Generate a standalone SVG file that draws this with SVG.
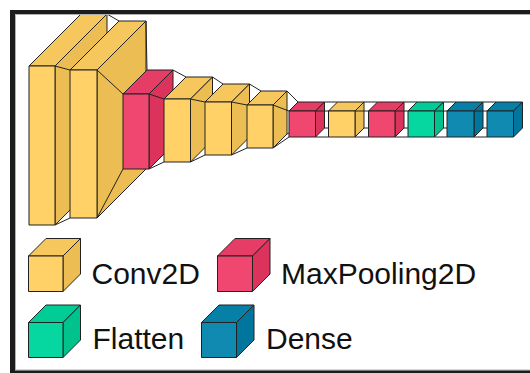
<svg xmlns="http://www.w3.org/2000/svg" width="530" height="373" viewBox="0 0 530 373">
  <style>
    .edge { stroke: #222; stroke-width: 1; stroke-linejoin: round; }
    .conv .front { fill: #FFD166; } .conv .top { fill: #F5C75C; } .conv .side { fill: #EBBD52; }
    .pool .front { fill: #EF476F; } .pool .top { fill: #E53D65; } .pool .side { fill: #DB335B; }
    .flat .front { fill: #06D6A0; } .flat .top { fill: #00CC96; } .flat .side { fill: #00C28C; }
    .dense .front { fill: #118AB2; } .dense .top { fill: #0780A8; } .dense .side { fill: #00769E; }
    .wire line { stroke: #222; stroke-width: 1; }
    .label { font-family: "Liberation Sans", Arial, sans-serif; font-size: 30px; fill: #111; }
    .frame { fill: #1c1c1c; }
    .frame-inner { stroke: #b0b0b0; stroke-width: 1; fill: none; }
  </style>

  <rect width="530" height="373" fill="#ffffff"/>

  <!-- layers: top face, side face, front face -->
  <g id="layer1" class="conv edge">
    <polygon class="top" points="29,66 81,14 107,14 55,66"/>
    <polygon class="side" points="55,66 107,14 107,173 55,225"/>
    <rect class="front" x="29" y="66" width="26" height="159"/>
  </g>
  <g id="layer2" class="conv edge">
    <polygon class="top" points="70,70 119,21 146,21 97,70"/>
    <polygon class="side" points="97,70 146,21 146,169 97,218"/>
    <rect class="front" x="70" y="70" width="27" height="148"/>
  </g>
  <g id="layer3" class="pool edge">
    <polygon class="top" points="123,94 147,70 173,70 149,94"/>
    <polygon class="side" points="149,94 173,70 173,145 149,169"/>
    <rect class="front" x="123" y="94" width="26" height="75"/>
  </g>
  <g id="layer4" class="conv edge">
    <polygon class="top" points="164,99 186,77 212.5,77 190.5,99"/>
    <polygon class="side" points="190.5,99 212.5,77 212.5,140 190.5,162"/>
    <rect class="front" x="164" y="99" width="26.5" height="63"/>
  </g>
  <g id="layer5" class="conv edge">
    <polygon class="top" points="205,102 223,84 249.5,84 231.5,102"/>
    <polygon class="side" points="231.5,102 249.5,84 249.5,137 231.5,155"/>
    <rect class="front" x="205" y="102" width="26.5" height="53"/>
  </g>
  <g id="layer6" class="conv edge">
    <polygon class="top" points="247,105 261,91 287,91 273,105"/>
    <polygon class="side" points="273,105 287,91 287,134 273,148"/>
    <rect class="front" x="247" y="105" width="26" height="43"/>
  </g>
  <g id="layer7" class="pool edge">
    <polygon class="top" points="289,111 298,102 324.5,102 315.5,111"/>
    <polygon class="side" points="315.5,111 324.5,102 324.5,128 315.5,137"/>
    <rect class="front" x="289" y="111" width="26.5" height="26"/>
  </g>
  <g id="layer8" class="conv edge">
    <polygon class="top" points="328.5,111 337.5,102 364,102 355,111"/>
    <polygon class="side" points="355,111 364,102 364,128 355,137"/>
    <rect class="front" x="328.5" y="111" width="26.5" height="26"/>
  </g>
  <g id="layer9" class="pool edge">
    <polygon class="top" points="368.5,111 377.5,102 404,102 395,111"/>
    <polygon class="side" points="395,111 404,102 404,128 395,137"/>
    <rect class="front" x="368.5" y="111" width="26.5" height="26"/>
  </g>
  <g id="layer10" class="flat edge">
    <polygon class="top" points="408,111 417,102 443.5,102 434.5,111"/>
    <polygon class="side" points="434.5,111 443.5,102 443.5,128 434.5,137"/>
    <rect class="front" x="408" y="111" width="26.5" height="26"/>
  </g>
  <g id="layer11" class="dense edge">
    <polygon class="top" points="447,111 456,102 483,102 474,111"/>
    <polygon class="side" points="474,111 483,102 483,128 474,137"/>
    <rect class="front" x="447" y="111" width="27" height="26"/>
  </g>
  <g id="layer12" class="dense edge">
    <polygon class="top" points="487,111 496,102 522.5,102 513.5,111"/>
    <polygon class="side" points="513.5,111 522.5,102 522.5,128 513.5,137"/>
    <rect class="front" x="487" y="111" width="26.5" height="26"/>
  </g>

  <!-- funnel lines joining consecutive layers (hidden parts left out) -->
  <g id="connectors" class="wire">
    <line x1="55" y1="66" x2="70" y2="70"/>
    <line x1="55" y1="225" x2="70" y2="218"/>
    <line x1="107" y1="14" x2="119" y2="21"/>

    <line x1="97" y1="70" x2="123" y2="94"/>
    <line x1="97" y1="218" x2="123" y2="169"/>
    <line x1="146" y1="21" x2="147" y2="70"/>

    <line x1="149" y1="94" x2="164" y2="99"/>
    <line x1="149" y1="169" x2="164" y2="162"/>
    <line x1="173" y1="70" x2="186" y2="77"/>

    <line x1="190.5" y1="99" x2="205" y2="102"/>
    <line x1="190.5" y1="162" x2="205" y2="155"/>
    <line x1="212.5" y1="77" x2="223" y2="84"/>

    <line x1="231.5" y1="102" x2="247" y2="105"/>
    <line x1="231.5" y1="155" x2="247" y2="148"/>
    <line x1="249.5" y1="84" x2="261" y2="91"/>

    <line x1="273" y1="105" x2="289" y2="111"/>
    <line x1="273" y1="148" x2="289" y2="137"/>
    <line x1="287" y1="91" x2="298" y2="102"/>
    <line x1="287" y1="134" x2="289" y2="132.9"/>

    <line x1="315.5" y1="111" x2="328.5" y2="111"/>
    <line x1="315.5" y1="137" x2="328.5" y2="137"/>
    <line x1="324.5" y1="102" x2="337.5" y2="102"/>
    <line x1="324.5" y1="128" x2="328.5" y2="128"/>

    <line x1="355" y1="111" x2="368.5" y2="111"/>
    <line x1="355" y1="137" x2="368.5" y2="137"/>
    <line x1="364" y1="102" x2="377.5" y2="102"/>
    <line x1="364" y1="128" x2="368.5" y2="128"/>

    <line x1="395" y1="111" x2="408" y2="111"/>
    <line x1="395" y1="137" x2="408" y2="137"/>
    <line x1="404" y1="102" x2="417" y2="102"/>
    <line x1="404" y1="128" x2="408" y2="128"/>

    <line x1="434.5" y1="111" x2="447" y2="111"/>
    <line x1="434.5" y1="137" x2="447" y2="137"/>
    <line x1="443.5" y1="102" x2="456" y2="102"/>
    <line x1="443.5" y1="128" x2="447" y2="128"/>

    <line x1="474" y1="111" x2="487" y2="111"/>
    <line x1="474" y1="137" x2="487" y2="137"/>
    <line x1="483" y1="102" x2="496" y2="102"/>
    <line x1="483" y1="128" x2="487" y2="128"/>
  </g>

  <!-- legend -->
  <g id="legend-conv2d">
    <g class="conv edge">
      <polygon class="top" points="28.5,256 46,238.5 80.5,238.5 63,256"/>
      <polygon class="side" points="63,256 80.5,238.5 80.5,274 63,291.5"/>
      <rect class="front" x="28.5" y="256" width="34.5" height="35.5"/>
    </g>
    <text class="label" x="91.5" y="284">Conv2D</text>
  </g>
  <g id="legend-maxpooling2d">
    <g class="pool edge">
      <polygon class="top" points="217.5,256 235,238.5 270,238.5 252.5,256"/>
      <polygon class="side" points="252.5,256 270,238.5 270,274 252.5,291.5"/>
      <rect class="front" x="217.5" y="256" width="35" height="35.5"/>
    </g>
    <text class="label" x="281" y="284">MaxPooling2D</text>
  </g>
  <g id="legend-flatten">
    <g class="flat edge">
      <polygon class="top" points="28.5,322.5 46,305 80.5,305 63,322.5"/>
      <polygon class="side" points="63,322.5 80.5,305 80.5,340 63,357.5"/>
      <rect class="front" x="28.5" y="322.5" width="34.5" height="35"/>
    </g>
    <text class="label" x="92.5" y="349">Flatten</text>
  </g>
  <g id="legend-dense">
    <g class="dense edge">
      <polygon class="top" points="201.5,322.5 219,305 254,305 236.5,322.5"/>
      <polygon class="side" points="236.5,322.5 254,305 254,340 236.5,357.5"/>
      <rect class="front" x="201.5" y="322.5" width="35" height="35"/>
    </g>
    <text class="label" x="266" y="349">Dense</text>
  </g>

  <!-- outer frame -->
  <g id="frame">
    <path class="frame-inner" d="M15.5,370 V14.5 H530 M15.5,370 H530"/>
    <rect class="frame" x="10" y="10" width="5" height="363"/>
    <rect class="frame" x="10" y="10" width="520" height="4"/>
    <rect class="frame" x="10" y="370.5" width="520" height="2.5"/>
  </g>
</svg>
